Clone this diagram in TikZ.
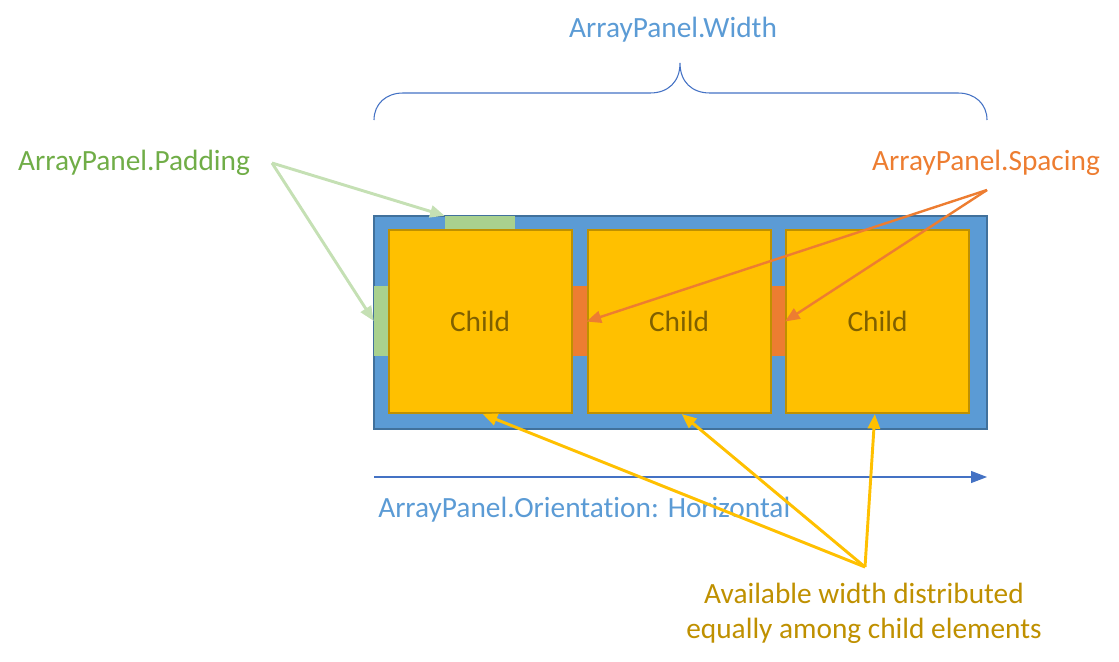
\documentclass[tikz,border=0pt]{standalone}
\usepackage{fontspec}
\setmainfont[Ligatures={NoCommon,NoDiscretionary}]{Carlito}
\usetikzlibrary{arrows.meta}
\definecolor{pblue}{HTML}{5B9BD5}
\definecolor{pborder}{HTML}{41719C}
\definecolor{braceblue}{HTML}{4472C4}
\definecolor{cfill}{HTML}{FFC000}
\definecolor{cborder}{HTML}{BF9000}
\definecolor{ctext}{HTML}{7F6000}
\definecolor{padfill}{HTML}{A9D18E}
\definecolor{padarrow}{HTML}{C5E0B4}
\definecolor{padtext}{HTML}{70AD47}
\definecolor{spc}{HTML}{ED7D31}
\tikzset{
  txt/.style={font=\fontsize{22}{26.3}\selectfont, inner sep=0pt},
  childbox/.style={draw=cborder, fill=cfill, line width=1.5pt, minimum width=183*0.75pt, minimum height=183*0.75pt, inner sep=0pt, font=\fontsize{22}{26}\selectfont, text=ctext},
  padarr/.style={draw=padarrow, line width=2.2pt, -{Triangle[length=11pt,width=9pt]}},
  spcarr/.style={draw=spc, line width=1.8pt, -{Triangle[length=11pt,width=9pt]}},
  yelarr/.style={draw=cfill, line width=2.2pt, -{Triangle[length=11pt,width=9pt]}},
}
\begin{document}
\begin{tikzpicture}[x=0.75pt,y=-0.75pt]
\useasboundingbox (0,0) rectangle (1119,661);
% panel
\node[draw=pborder, fill=pblue, line width=1.5pt, minimum width=613*0.75pt, minimum height=213*0.75pt, inner sep=0pt] (panel) at (680.5,322.5) {};
% padding
\node[fill=padfill, minimum width=70*0.75pt, minimum height=14*0.75pt, inner sep=0pt] (padtop) at (480,223) {};
\node[fill=padfill, minimum width=14*0.75pt, minimum height=70*0.75pt, inner sep=0pt] (padleft) at (381,321) {};
% spacing
\node[fill=spc, minimum width=15*0.75pt, minimum height=70*0.75pt, inner sep=0pt] (sp1) at (579.5,321) {};
\node[fill=spc, minimum width=14*0.75pt, minimum height=70*0.75pt, inner sep=0pt] (sp2) at (778,321) {};
% children
\node[childbox] (c1) at (480,321.5) {Child};
\node[childbox] (c2) at (679,321.5) {Child};
\node[childbox] (c3) at (877.5,321.5) {Child};
% width brace
\draw[braceblue, line width=0.8pt] (374,120) .. controls (374,104) and (386,93) .. (403,93) -- (650,93) .. controls (668,93) and (680,82) .. (680,63) .. controls (680,82) and (692,93) .. (710,93) -- (958,93) .. controls (975,93) and (987,104) .. (987,120);
\node[txt, text=pblue] (wlabel) at (673,30) {ArrayPanel.Width};
% padding label and arrows
\node[txt, text=padtext] (plabel) at (134,163) {ArrayPanel.Padding};
\coordinate (pstart) at (272,163);
\draw[padarr] (pstart) -- (padtop.north west);
\draw[padarr] (pstart) -- (padleft.west);
% spacing label and arrows
\node[txt, text=spc] (slabel) at (986,163) {ArrayPanel.Spacing};
\coordinate (sstart) at (987,190);
\draw[spcarr] (sstart) -- (c2.west);
\draw[spcarr] (sstart) -- (c3.west);
% orientation
\coordinate (ostart) at (374,477);
\coordinate (oend) at (987,477);
\draw[braceblue, line width=0.8pt, -{Triangle[length=12pt,width=9pt]}] (ostart) -- (oend);
\node[txt, text=pblue, anchor=west] (olabel) at (378,510) {ArrayPanel.Orientation: Horizontal};
% available width
\node[txt, text=cborder, align=center] (alabel) at (864,613) {Available width distributed\\equally among child elements};
\coordinate (astart) at (865,567);
\draw[yelarr] (astart) -- ([xshift=2pt]c1.south);
\draw[yelarr] (astart) -- ([xshift=2pt]c2.south);
\draw[yelarr] (astart) -- ([xshift=-2pt]c3.south);
\end{tikzpicture}
\end{document}
